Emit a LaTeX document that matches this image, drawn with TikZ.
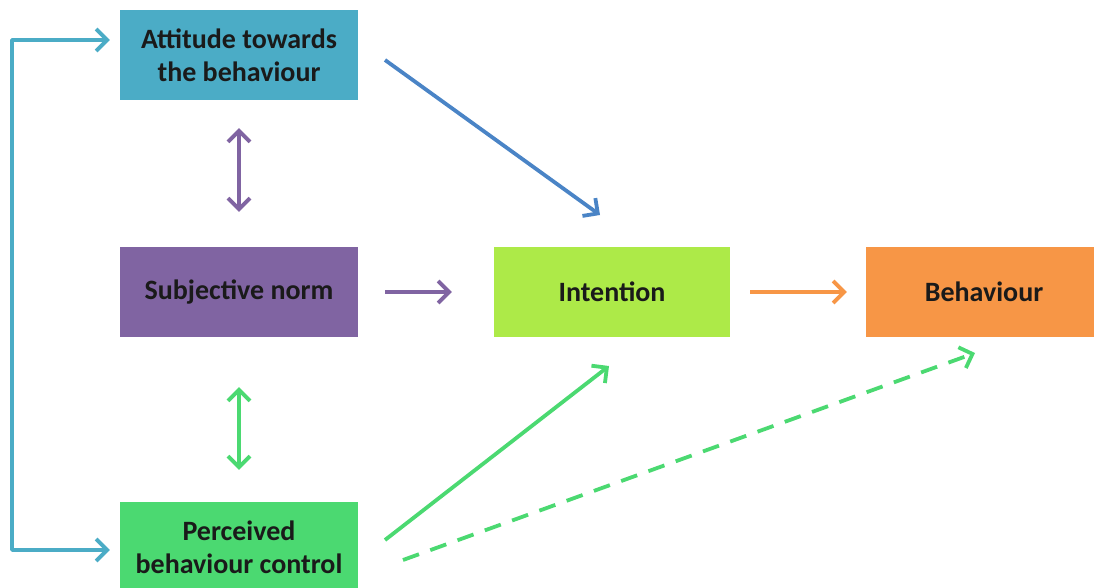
\documentclass[tikz,border=0pt]{standalone}
\usepackage{fontspec}
\setmainfont{Carlito}
\usetikzlibrary{arrows.meta}
\definecolor{cteal}{HTML}{4BACC6}
\definecolor{cpurple}{HTML}{8064A2}
\definecolor{clime}{HTML}{ADEA48}
\definecolor{corange}{HTML}{F79646}
\definecolor{cgreen}{HTML}{4BD971}
\definecolor{cblue}{HTML}{4A84C6}
\definecolor{ctext}{HTML}{1A1A1A}
\tikzset{
  box/.style={minimum width=238pt, minimum height=90pt, inner sep=0pt,
    text=ctext, align=center,
    font=\fontsize{28}{33}\selectfont\bfseries},
  tip/.style={-{Straight Barb[length=11pt, width=22pt, line width=3.8pt]}},
  link/.style={line width=3.8pt, tip},
  twoway/.style={line width=3.8pt, {Straight Barb[length=11pt, width=22pt, line width=3.8pt]}-{Straight Barb[length=11pt, width=22pt, line width=3.8pt]}}
}
\begin{document}
\begin{tikzpicture}[x=1pt, y=-1pt]
\useasboundingbox (0,0) rectangle (1094,588);
\clip (0,0) rectangle (1094,588);

% boxes
\node[box, fill=cteal] (att) at (239,55) {Attitude towards\\the behaviour};
\node[box, fill=cpurple] (norm) at (239,292) {Subjective norm};
\node[box, fill=cgreen] (pbc) at (239,547) {Perceived\\behaviour control};
\node[box, fill=clime, minimum width=236pt] (int) at (612,292) {Intention};
\node[box, fill=corange, minimum width=236pt] (beh) at (984,292) {Behaviour};

% feedback bracket on the left
\coordinate (lt) at (12,40);
\coordinate (lb) at (12,550);
\draw[cteal, link, line join=round] (lb) -- (lt) -- ([xshift=-10pt]att.west |- lt);
\draw[cteal, link, line join=round] (lt) -- (lb) -- ([xshift=-10pt]pbc.west |- lb);

% correlations between the three predictors
\draw[twoway, cpurple] ([yshift=-28pt]att.south) -- ([yshift=35pt]norm.north);
\draw[twoway, cgreen] ([yshift=-50pt]norm.south) -- ([yshift=32pt]pbc.north);

% paths to intention and behaviour
\coordinate (a1) at (385,60);
\coordinate (a2) at (600,215);
\draw[link, cblue] (a1) -- (a2);
\draw[link, cpurple] ([xshift=27pt]norm.east) -- ([xshift=-42pt]int.west);
\draw[link, corange] ([xshift=20pt]int.east) -- ([xshift=-19pt]beh.west);
\coordinate (p1) at (385,540);
\coordinate (p2) at (609,366);
\draw[link, cgreen] (p1) -- (p2);
\coordinate (d1) at (403,560);
\coordinate (d2) at (975,353);
\draw[link, cgreen, dash pattern=on 17pt off 12pt] (d1) -- (d2);
\end{tikzpicture}
\end{document}
